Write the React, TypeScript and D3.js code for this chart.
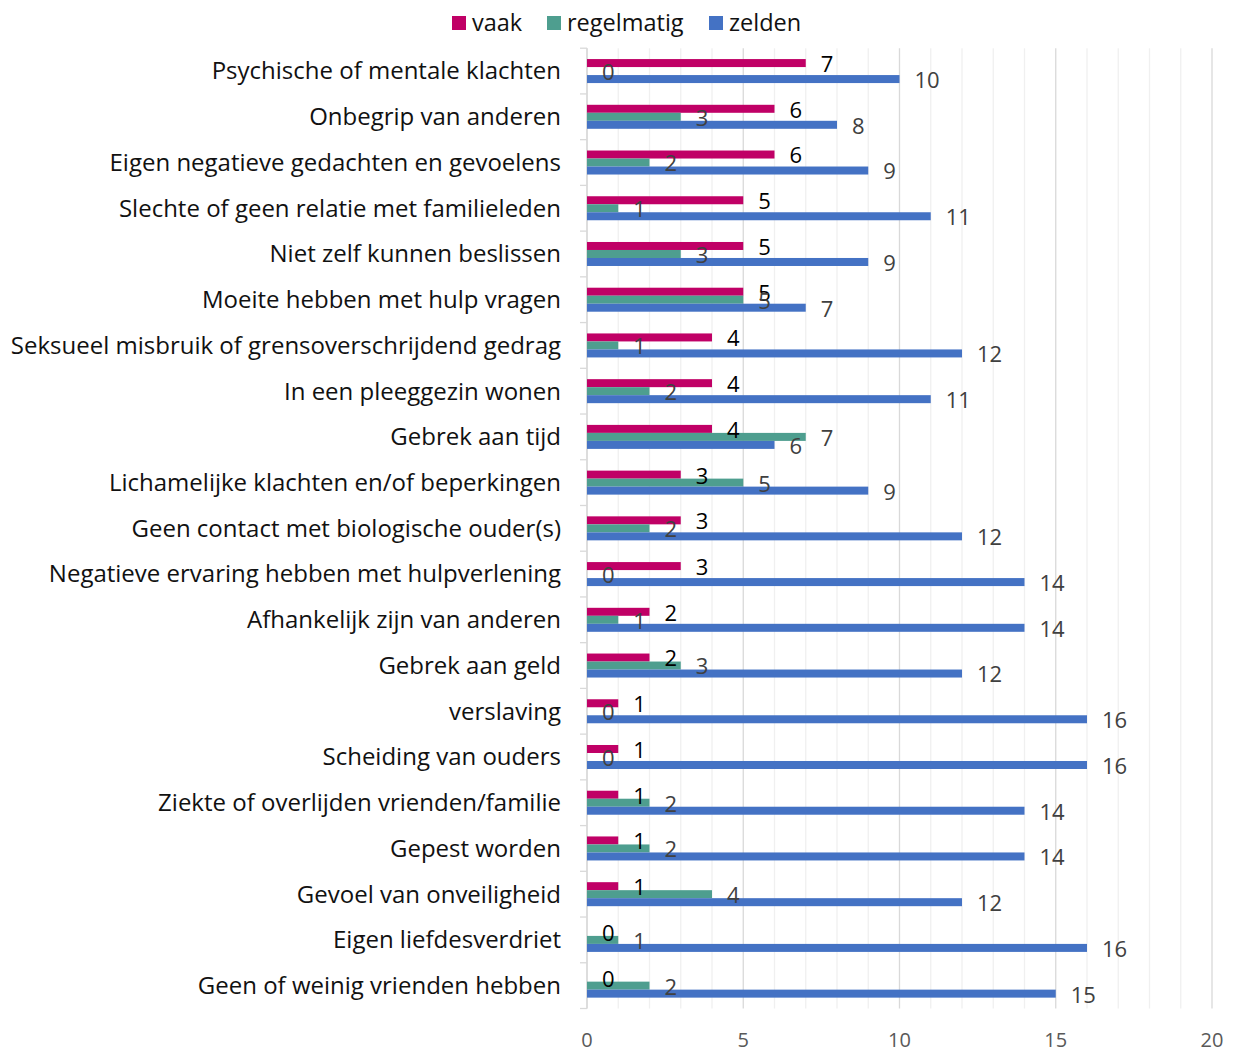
import React from "react";
import * as d3 from "d3";

const categories = [
  "Psychische of mentale klachten",
  "Onbegrip van anderen",
  "Eigen negatieve gedachten en gevoelens",
  "Slechte of geen relatie met familieleden",
  "Niet zelf kunnen beslissen",
  "Moeite hebben met hulp vragen",
  "Seksueel misbruik of grensoverschrijdend gedrag",
  "In een pleeggezin wonen",
  "Gebrek aan tijd",
  "Lichamelijke klachten en/of beperkingen",
  "Geen contact met biologische ouder(s)",
  "Negatieve ervaring hebben met hulpverlening",
  "Afhankelijk zijn van anderen",
  "Gebrek aan geld",
  "verslaving",
  "Scheiding van ouders",
  "Ziekte of overlijden vrienden/familie",
  "Gepest worden",
  "Gevoel van onveiligheid",
  "Eigen liefdesverdriet",
  "Geen of weinig vrienden hebben",
];

const vaak = [7, 6, 6, 5, 5, 5, 4, 4, 4, 3, 3, 3, 2, 2, 1, 1, 1, 1, 1, 0, 0];
const regelmatig = [0, 3, 2, 1, 3, 5, 1, 2, 7, 5, 2, 0, 1, 3, 0, 0, 2, 2, 4, 1, 2];
const zelden = [10, 8, 9, 11, 9, 7, 12, 11, 6, 9, 12, 14, 14, 12, 16, 16, 14, 14, 12, 16, 15];

const seriesNames = ["vaak", "regelmatig", "zelden"];
const seriesColors = ["#C00066", "#4E9E8F", "#4472C4"];
const labelColors = ["#000000", "#404040", "#404040"];
const xTicks = [0, 5, 10, 15, 20];

const W = 1234;
const H = 1047;
const FONT = "'Open Sans', sans-serif";

export default function App() {
  const left = 587;
  const right = 1212;
  const top = 48.2;
  const bottom = 1008.5;

  const x = d3.scaleLinear().domain([0, 20]).range([left, right]);
  const y = d3.scaleBand<string>().domain(categories).range([top, bottom]).paddingInner(0).paddingOuter(0);
  const bw = y.bandwidth();
  const barH = 8;
  const groupH = barH * 3;
  const series = [vaak, regelmatig, zelden];

  const minor = d3.range(0, 21);

  return (
    <svg width={W} height={H} style={{ display: "block", position: "absolute", left: 0, top: 0 }} fontFamily={FONT}>
      <rect width={W} height={H} fill="#fff" />
      {/* gridlines */}
      {minor.map((t) => (
        <line
          key={"g" + t}
          x1={x(t)}
          x2={x(t)}
          y1={top}
          y2={bottom}
          stroke={t % 5 === 0 ? "#D9D9D9" : "#F0F0F0"}
          strokeWidth={1.3}
        />
      ))}
      {/* left axis */}
      <line x1={left} x2={left} y1={top} y2={bottom} stroke="#D9D9D9" strokeWidth={1.3} />
      {d3.range(0, categories.length + 1).map((i) => {
        const yy = top + i * bw;
        return <line key={"t" + i} x1={left - 7} x2={left} y1={yy} y2={yy} stroke="#D9D9D9" strokeWidth={1.3} />;
      })}
      {/* x tick labels */}
      {xTicks.map((t) => (
        <text key={"x" + t} x={x(t)} y={1047} textAnchor="middle" fontSize={20} fill="#595959">
          {t}
        </text>
      ))}
      {/* category labels */}
      {categories.map((c) => (
        <text
          key={c}
          x={561}
          y={(y(c) as number) + bw / 2}
          dy="0.35em"
          textAnchor="end"
          fontSize={24}
          fill="#111"
        >
          {c}
        </text>
      ))}
      {/* bars */}
      {series.map((vals, si) =>
        categories.map((c, i) => {
          const y0 = (y(c) as number) + (bw - groupH) / 2 + si * barH;
          return (
            <rect
              key={si + "-" + i}
              x={x(0)}
              y={y0}
              width={x(vals[i]) - x(0)}
              height={barH}
              fill={seriesColors[si]}
            />
          );
        })
      )}
      {/* value labels */}
      {series.map((vals, si) =>
        categories.map((c, i) => {
          const y0 = (y(c) as number) + (bw - groupH) / 2 + si * barH + barH / 2;
          return (
            <text
              key={"l" + si + "-" + i}
              x={x(vals[i]) + 15}
              y={y0 + 1.2}
              dy="0.35em"
              fontSize={22}
              fill={labelColors[si]}
            >
              {vals[i]}
            </text>
          );
        })
      )}
      {/* legend */}
      {[
        { sx: 452, tx: 472 },
        { sx: 547, tx: 567 },
        { sx: 709, tx: 729 },
      ].map((p, i) => (
        <g key={"lg" + i}>
          <rect x={p.sx} y={16} width={14} height={14} fill={seriesColors[i]} />
          <text x={p.tx} y={23} dy="0.35em" fontSize={23.5} fill="#111">
            {seriesNames[i]}
          </text>
        </g>
      ))}
    </svg>
  );
}
